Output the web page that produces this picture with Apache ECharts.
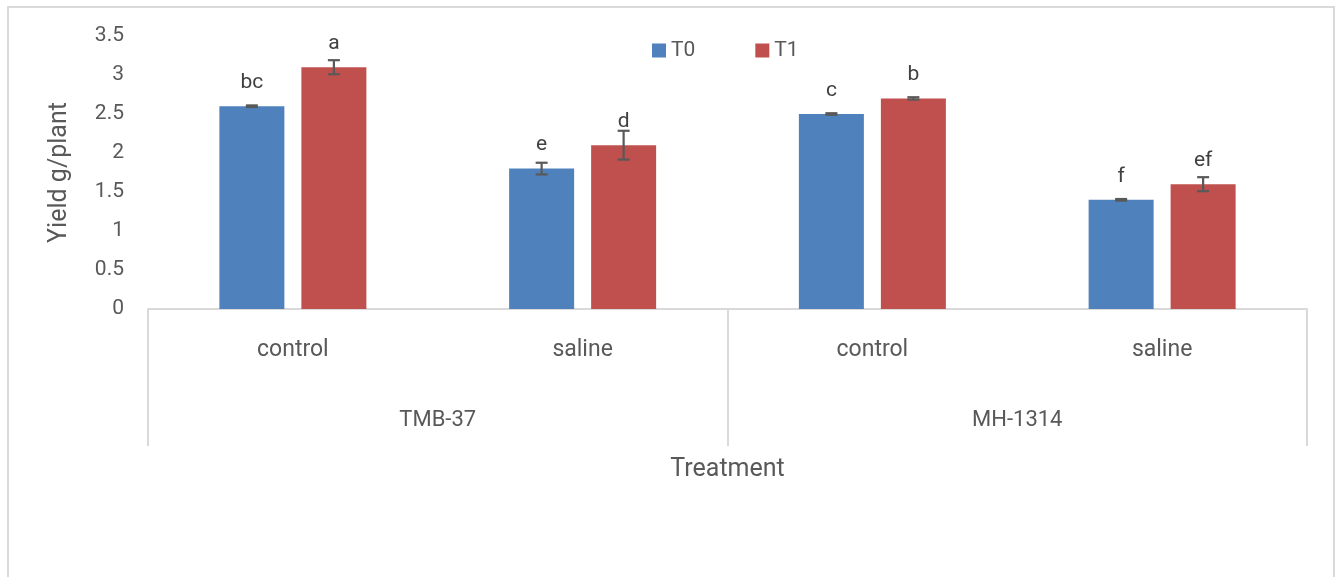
<!DOCTYPE html>
<html>
<head>
<meta charset="utf-8">
<script src="https://cdn.jsdelivr.net/npm/echarts@6/dist/echarts.min.js"></script>
<style>
html,body{margin:0;padding:0;background:#fff;}
#chart{width:1335px;height:577px;}
</style>
</head>
<body>
<div id="chart"></div>
<script>
// ---- data ----
var subCategories = ['control', 'saline', 'control', 'saline'];
var groups = ['TMB-37', 'MH-1314'];
var seriesNames = ['T0', 'T1'];
var valuesT0 = [2.6, 1.8, 2.5, 1.4];
var valuesT1 = [3.1, 2.1, 2.7, 1.6];
var errorsT0 = [0.01, 0.075, 0.01, 0.01];
var errorsT1 = [0.09, 0.185, 0.015, 0.09];
var lettersT0 = ['bc', 'e', 'c', 'f'];
var lettersT1 = ['a', 'd', 'b', 'ef'];

// ---- styles ----
var FONT = "Roboto, 'Liberation Sans', sans-serif";
var BAR_W = 65, BAR_GAP_PX = 17;
var blue = '#4F81BD', red = '#C0504D';
var gridGray = '#d9d9d9', textGray = '#595959';

function errData(vals, errs) {
  return vals.map(function (v, i) { return [i, v, errs[i]]; });
}
function makeErr(name, vals, errs, sign) {
  return {
    type: 'custom',
    name: name + ' err',
    xAxisIndex: 0,
    z: 5,
    silent: true,
    data: errData(vals, errs),
    renderItem: function (params, api) {
      var i = api.value(0), v = api.value(1), e = api.value(2);
      var off = sign * (BAR_W + BAR_GAP_PX) / 2;
      var hi = api.coord([i, v + e]);
      var lo = api.coord([i, v - e]);
      var x = hi[0] + off, cw = 6;
      var st = { stroke: '#595959', lineWidth: 2.2 };
      return {
        type: 'group',
        children: [
          { type: 'line', shape: { x1: x, y1: hi[1], x2: x, y2: lo[1] }, style: st },
          { type: 'line', shape: { x1: x - cw, y1: hi[1], x2: x + cw, y2: hi[1] }, style: st },
          { type: 'line', shape: { x1: x - cw, y1: lo[1], x2: x + cw, y2: lo[1] }, style: st }
        ]
      };
    }
  };
}
function makeBar(name, vals, letters, color) {
  return {
    type: 'bar',
    name: name,
    xAxisIndex: 0,
    data: vals,
    barWidth: BAR_W,
    barGap: (BAR_GAP_PX / BAR_W * 100) + '%',
    itemStyle: { color: color },
    label: {
      show: true,
      position: 'top',
      distance: 13,
      formatter: function (p) { return letters[p.dataIndex]; },
      fontFamily: FONT,
      fontSize: 21,
      color: '#404040'
    }
  };
}

var chart = echarts.init(document.getElementById('chart'));
chart.setOption({
  animation: false,
  backgroundColor: '#fff',
  graphic: [{
    type: 'rect',
    shape: { x: 8, y: 7, width: 1326, height: 620 },
    style: { fill: 'none', stroke: gridGray, lineWidth: 2 },
    silent: true, z: -1
  }],
  legend: {
    data: seriesNames,
    left: 652, top: 40, padding: 0,
    itemWidth: 14, itemHeight: 14, itemGap: 60,
    icon: 'rect',
    textStyle: { fontFamily: FONT, fontSize: 21, color: textGray }
  },
  grid: { left: 148, right: 28, top: 36, bottom: 268, containLabel: false },
  xAxis: [{
    type: 'category',
    data: subCategories,
    position: 'bottom',
    axisLine: { show: true, lineStyle: { color: gridGray, width: 2 } },
    axisTick: { show: false },
    axisLabel: { margin: 30, fontFamily: FONT, fontSize: 23, color: textGray, interval: 0 },
    splitLine: { show: false }
  }, {
    type: 'category',
    data: groups,
    position: 'bottom',
    offset: 0,
    axisLine: { show: false },
    axisTick: { show: true, length: 137, lineStyle: { color: gridGray, width: 2 } },
    axisLabel: { margin: 100, fontFamily: FONT, fontSize: 22, color: textGray, interval: 0 },
    splitLine: { show: false },
    name: 'Treatment',
    nameLocation: 'middle',
    nameGap: 148,
    nameTextStyle: { fontFamily: FONT, fontSize: 25, color: textGray }
  }],
  yAxis: {
    type: 'value',
    min: 0, max: 3.5, interval: 0.5,
    axisLine: { show: false },
    axisTick: { show: false },
    splitLine: { show: false },
    axisLabel: { margin: 24, fontFamily: FONT, fontSize: 21, color: textGray },
    name: 'Yield g/plant',
    nameLocation: 'middle',
    nameGap: 76,
    nameTextStyle: { fontFamily: FONT, fontSize: 25, color: textGray }
  },
  series: [
    makeBar(seriesNames[0], valuesT0, lettersT0, blue),
    makeBar(seriesNames[1], valuesT1, lettersT1, red),
    makeErr(seriesNames[0], valuesT0, errorsT0, -1),
    makeErr(seriesNames[1], valuesT1, errorsT1, 1)
  ]
});
</script>
</body>
</html>
